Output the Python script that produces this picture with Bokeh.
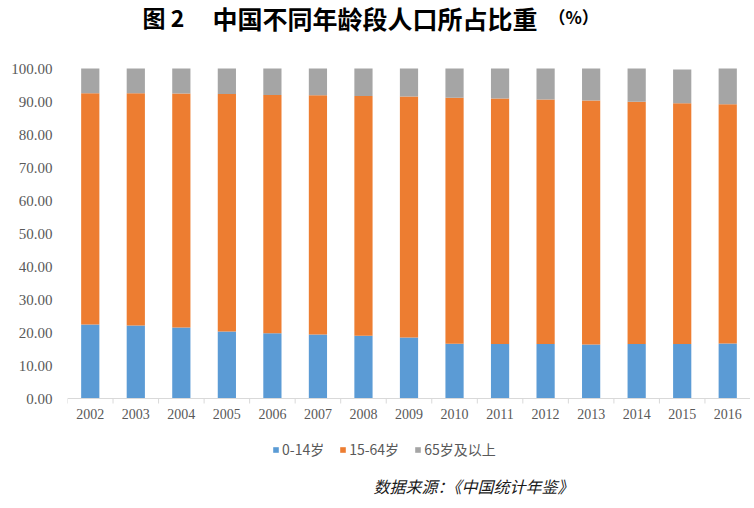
from bokeh.plotting import figure
from bokeh.models import (ColumnDataSource, Range1d, FixedTicker, NumeralTickFormatter,
                          Legend, LegendItem, Label)
from bokeh.core.properties import value
from bokeh.embed import file_html
from bokeh.resources import INLINE

years = ["2002", "2003", "2004", "2005", "2006", "2007", "2008", "2009",
         "2010", "2011", "2012", "2013", "2014", "2015", "2016"]
age_0_14 = [22.4, 22.1, 21.5, 20.3, 19.8, 19.4, 19.0, 18.5, 16.6, 16.5, 16.5, 16.4, 16.5, 16.5, 16.7]
age_15_64 = [70.1, 70.4, 70.9, 72.0, 72.2, 72.5, 72.7, 73.0, 74.5, 74.4, 74.1, 73.9, 73.4, 73.0, 72.5]
age_65_up = [7.5, 7.5, 7.6, 7.7, 8.0, 8.1, 8.3, 8.5, 8.9, 9.1, 9.4, 9.7, 10.1, 10.2, 10.8]
series_names = ["0-14岁", "15-64岁", "65岁及以上"]
colors = ["#5B9BD5", "#ED7D31", "#A5A5A5"]
y_ticks = [0, 10, 20, 30, 40, 50, 60, 70, 80, 90, 100]

FW, FH = 683, 506
K = 3.3                      # pixels per percentage point
Y_TOP = 398 / K
Y_BOT = -(FH - 398) / K
n = len(years)
xs = list(range(n))

p = figure(frame_width=FW, frame_height=FH, output_backend="svg", toolbar_location=None,
           x_range=Range1d(-0.5, n - 0.5), y_range=Range1d(Y_BOT, Y_TOP),
           min_border_left=67, min_border_right=0, min_border_top=0, min_border_bottom=0)
p.outline_line_color = None
p.xgrid.grid_line_color = None
p.ygrid.grid_line_color = None
p.xaxis.visible = False

src = ColumnDataSource(dict(x=xs, a=age_0_14, b=age_15_64, c=age_65_up))
rs = p.vbar_stack(["a", "b", "c"], x="x", width=0.4, color=colors, line_color=None, source=src)

# category axis drawn at y = 0
p.segment(x0=[-0.5], y0=[0], x1=[n - 0.5], y1=[0], line_color="#D9D9D9", line_width=1)
sep = [i - 0.5 for i in range(n + 1)]
p.segment(x0=sep, y0=[0] * len(sep), x1=sep, y1=[-5 / K] * len(sep),
          line_color="#D9D9D9", line_width=1)
p.text(x=xs, y=[-15 / K] * n, text=years, text_align="center", text_baseline="middle",
       text_font=value("Liberation Serif"), text_font_size="14px", text_color="#595959")

# y axis
ya = p.yaxis[0]
ya.ticker = FixedTicker(ticks=y_ticks)
ya.formatter = NumeralTickFormatter(format="0.00")
ya.axis_line_color = None
ya.major_tick_line_color = None
ya.major_tick_out = 0
ya.major_tick_in = 0
ya.minor_tick_line_color = None
ya.major_label_standoff = 15
ya.major_label_text_font = "Liberation Serif"
ya.major_label_text_font_size = "15px"
ya.major_label_text_color = "#595959"

legend = Legend(items=[LegendItem(label=nm, renderers=[r]) for nm, r in zip(series_names, rs)],
                orientation="horizontal", location=(205, 47),
                glyph_width=7, glyph_height=7, label_standoff=3, spacing=15,
                label_text_font="Noto Sans CJK SC", label_text_font_size="14px",
                label_text_color="#595959", border_line_color=None,
                background_fill_alpha=0, padding=0, margin=0)
p.add_layout(legend, "center")

p.add_layout(Label(x=306, y=21, x_units="screen", y_units="screen",
                   text="数据来源：《中国统计年鉴》",
                   text_font="Noto Sans CJK SC", text_font_size="16px", text_font_style="italic",
                   text_baseline="middle", text_color="#1a1a1a"))

ty = FH - 16
p.add_layout(Label(x=75, y=ty, x_units="screen", y_units="screen", text="图 2",
                   text_font="Noto Sans CJK SC", text_font_size="23px", text_font_style="bold",
                   text_baseline="middle", text_color="#000000"))
p.add_layout(Label(x=145, y=ty - 1, x_units="screen", y_units="screen",
                   text="中国不同年龄段人口所占比重",
                   text_font="Noto Sans CJK SC", text_font_size="25px", text_font_style="bold",
                   text_baseline="middle", text_color="#000000"))
p.add_layout(Label(x=481, y=ty, x_units="screen", y_units="screen", text="（%）",
                   text_font="Noto Sans CJK SC", text_font_size="17px", text_font_style="bold",
                   text_baseline="middle", text_color="#000000"))

open("out.html", "w").write(file_html(p, INLINE))
